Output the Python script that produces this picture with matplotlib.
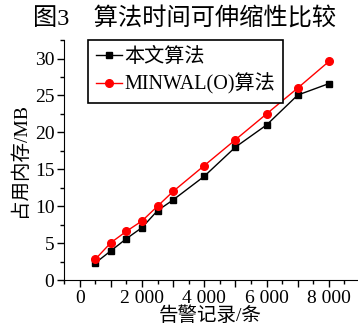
import matplotlib
matplotlib.use('Agg')
import matplotlib.pyplot as plt
from matplotlib.ticker import MultipleLocator, FuncFormatter

plt.rcParams['font.family'] = ['Liberation Serif', 'Noto Sans CJK SC']
plt.rcParams['axes.unicode_minus'] = False

# 数据
records = [500, 1000, 1500, 2000, 2500, 3000, 4000, 5000, 6000, 7000, 8000]
mem_ours = [2.3, 3.95, 5.6, 7.1, 9.4, 10.85, 14.05, 18.0, 21.0, 25.05, 26.6]
mem_minwal = [2.8, 5.05, 6.6, 8.0, 10.0, 12.0, 15.5, 19.0, 22.5, 26.0, 29.6]
labels = ['本文算法', 'MINWAL(O)算法']

fig = plt.figure(figsize=(3.58, 3.31), dpi=100)
ax = fig.add_axes([0.179, 0.154, 0.818, 0.725])

ax.plot(records, mem_ours, color='black', lw=1.0, marker='s', ms=5, label=labels[0])
ax.plot(records, mem_minwal, color='red', lw=1.0, marker='o', ms=5.5, label=labels[1])

ax.set_xlim(-500, 8900)
ax.set_ylim(0, 32.5)

ax.spines['top'].set_visible(False)
ax.spines['right'].set_visible(False)

ax.xaxis.set_major_locator(MultipleLocator(1000))
ax.xaxis.set_minor_locator(MultipleLocator(500))
ax.xaxis.set_major_formatter(FuncFormatter(
    lambda v, p: '' if int(round(v)) % 2000 else ('0' if v == 0 else f'{int(v)//1000} 000')))
ax.yaxis.set_major_locator(MultipleLocator(5))
ax.yaxis.set_minor_locator(MultipleLocator(2.5))

ax.tick_params(which='major', direction='out', length=5, width=1, labelsize=14, pad=2)
ax.tick_params(which='minor', direction='out', length=3, width=1)

ax.set_xlabel('告警记录/条', fontsize=14, labelpad=0)
ax.set_ylabel('占用内存/MB', fontsize=14, labelpad=4)

leg = ax.legend(loc='upper left', bbox_to_anchor=(0.082, 1.0), borderaxespad=0,
                fontsize=14.5, handlelength=1.3, handletextpad=0.1,
                labelspacing=0.3, borderpad=0.4, fancybox=False, framealpha=1)
leg.get_frame().set_edgecolor('black')
leg.get_frame().set_linewidth(1.2)

fig.text(0.515, 0.945, '图3　算法时间可伸缩性比较', ha='center', va='center', fontsize=17.5)

fig.savefig('out.png', dpi=100)
